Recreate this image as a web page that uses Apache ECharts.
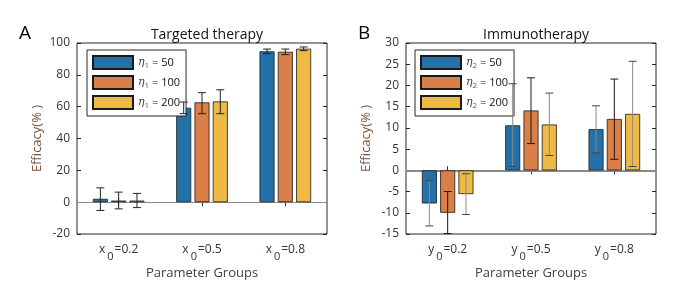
<!DOCTYPE html>
<html><head><meta charset="utf-8">
<script src="https://cdn.jsdelivr.net/npm/echarts@6/dist/echarts.min.js"></script>
<style>html,body{margin:0;padding:0;background:#fff}#c{width:687px;height:290px}</style>
</head><body><div id="c"></div>
<script>
// ---- data ----
const groupsA = ['0.2', '0.5', '0.8'];
const groupsB = ['0.2', '0.5', '0.8'];
const yTicksA = { min: -20, max: 100, step: 20 };
const yTicksB = { min: -15, max: 30, step: 5 };
const legendA = ['50', '100', '200'];
const legendB = ['50', '100', '200'];

const a50 = [2.1, 59.3, 94.8];
const a50Lo = [-5.2, 55.6, 93.3];
const a50Hi = [9.0, 62.9, 96.2];
const a100 = [1.0, 62.7, 94.5];
const a100Lo = [-4.2, 55.6, 92.7];
const a100Hi = [6.3, 68.8, 96.2];
const a200 = [1.0, 63.3, 96.4];
const a200Lo = [-3.4, 55.6, 95.2];
const a200Hi = [5.5, 70.6, 97.5];

const b50 = [-7.8, 10.6, 9.7];
const b50Lo = [-13.1, 0.9, 4.1];
const b50Hi = [-2.4, 20.4, 15.2];
const b100 = [-10.0, 14.1, 12.1];
const b100Lo = [-14.9, 6.3, 2.6];
const b100Hi = [-5.0, 21.8, 21.5];
const b200 = [-5.6, 10.8, 13.3];
const b200Lo = [-10.4, 3.5, 0.9];
const b200Hi = [-0.8, 18.2, 25.7];

// ---- style ----
const colors = ['#2471a9', '#d97f47', '#eeb945'];
const BW = 15, GAP = 0.22;
const tickColor = '#2e3440';
const fontFam = '"Open Sans", "Noto Sans", sans-serif';

const chart = echarts.init(document.getElementById('c'));

function xAxes(gi, cats, varName) {
  return [{
    type: 'category', gridIndex: gi, data: cats, position: 'bottom',
    axisLine: { show: false },
    axisTick: { show: true, inside: true, alignWithLabel: true, length: 4, lineStyle: { color: '#262626' } },
    axisLabel: {
      interval: 0, margin: 10, color: tickColor, fontFamily: fontFam, fontSize: 12,
      formatter: v => '{a|' + varName + '}{s|0}{a|=' + v + '}',
      rich: {
        a: { fontSize: 12, color: tickColor, fontFamily: fontFam, verticalAlign: 'top', lineHeight: 14 },
        s: { fontSize: 11, color: tickColor, fontFamily: fontFam, verticalAlign: 'top', lineHeight: 14, padding: [7, 1, 0, 2] }
      }
    },
    name: 'Parameter Groups', nameLocation: 'middle', nameGap: 32,
    nameTextStyle: { color: '#3a4050', fontSize: 13, fontFamily: fontFam }
  }, {
    type: 'category', gridIndex: gi, data: cats, position: 'top',
    axisLine: { show: false },
    axisTick: { show: true, inside: true, alignWithLabel: true, length: 4, lineStyle: { color: '#262626' } },
    axisLabel: { show: false }
  }];
}
function yAxes(gi, t) {
  return [{
    type: 'value', gridIndex: gi, min: t.min, max: t.max, interval: t.step, position: 'left',
    axisLine: { show: false }, splitLine: { show: false },
    axisTick: { show: true, inside: true, length: 4, lineStyle: { color: '#262626' } },
    axisLabel: { margin: 7, color: tickColor, fontSize: 12, fontFamily: fontFam },
    name: 'Efficacy(% )', nameLocation: 'middle', nameGap: 33, nameRotate: 90,
    nameTextStyle: { color: '#7a5238', fontSize: 13, fontFamily: fontFam }
  }, {
    type: 'value', gridIndex: gi, min: t.min, max: t.max, interval: t.step, position: 'right',
    axisLine: { show: false }, splitLine: { show: false },
    axisTick: { show: true, inside: true, length: 4, lineStyle: { color: '#262626' } },
    axisLabel: { show: false }
  }];
}

function barSeries(name, vals, idx, xi, yi, zeroW) {
  const s = {
    type: 'bar', name: name, xAxisIndex: xi, yAxisIndex: yi, data: vals,
    barWidth: BW, barGap: (GAP * 100) + '%',
    itemStyle: { color: colors[idx], borderColor: '#1a1a1a', borderWidth: 0.8 },
    z: 2
  };
  if (idx === 0) {
    s.markLine = {
      silent: true, symbol: 'none', label: { show: false },
      lineStyle: { color: '#8a8a8a', width: zeroW, type: 'solid' },
      data: [{ yAxis: 0 }], z: 1
    };
  }
  return s;
}
function errSeries(lo, hi, idx, xi, yi, lineColor, capColor) {
  const data = lo.map((l, i) => [i, l, hi[i]]);
  return {
    type: 'custom', xAxisIndex: xi, yAxisIndex: yi, data: data, z: 5, silent: true,
    encode: { x: 0, y: [1, 2] },
    renderItem: (params, api) => {
      const i = api.value(0);
      const pLo = api.coord([i, api.value(1)]);
      const pHi = api.coord([i, api.value(2)]);
      const off = (idx - 1) * BW * (1 + GAP);
      const x = pLo[0] + off;
      const c = 4;
      return {
        type: 'group', children: [
          { type: 'line', shape: { x1: x, y1: pLo[1], x2: x, y2: pHi[1] }, style: { stroke: lineColor, lineWidth: 1 } },
          { type: 'line', shape: { x1: x - c, y1: pLo[1], x2: x + c, y2: pLo[1] }, style: { stroke: capColor, lineWidth: 1 } },
          { type: 'line', shape: { x1: x - c, y1: pHi[1], x2: x + c, y2: pHi[1] }, style: { stroke: capColor, lineWidth: 1 } }
        ]
      };
    }
  };
}

function legendCfg(names, sub, left) {
  const map = {};
  names.forEach((n, i) => { map[n] = legendB[i]; });
  return {
    data: names, orient: 'vertical', left: left, top: 50,
    itemWidth: 40, itemHeight: 13, itemGap: 5,
    padding: [5, 6, 6, 5], borderColor: '#262626', borderWidth: 1, backgroundColor: '#fff',
    icon: 'rect', selectedMode: false,
    formatter: n => '{e|η}{s|' + sub + '}{t| = ' + map[n] + '}',
    textStyle: {
      rich: {
        e: { fontSize: 11, fontStyle: 'italic', color: '#444', fontFamily: 'DejaVu Serif, serif' },
        s: { fontSize: 8, color: '#2a5db0', padding: [6, 0, 0, 0], fontFamily: fontFam },
        t: { fontSize: 11, color: '#111', fontFamily: fontFam }
      }
    }
  };
}

const namesA = legendA.map(v => 'A' + v);
const namesB = legendB.map(v => 'B' + v);

chart.setOption({
  animation: false,
  grid: [
    { left: 77, top: 43, width: 250, height: 191, show: true, borderColor: '#262626', borderWidth: 1, backgroundColor: 'transparent' },
    { left: 406, top: 43, width: 250, height: 191, show: true, borderColor: '#262626', borderWidth: 1, backgroundColor: 'transparent' }
  ],
  title: [
    { text: 'Targeted therapy', left: 202, top: 23, textAlign: 'center', textStyle: { fontSize: 14, fontWeight: 'normal', color: '#111', fontFamily: fontFam } },
    { text: 'Immunotherapy', left: 531, top: 23, textAlign: 'center', textStyle: { fontSize: 14, fontWeight: 'normal', color: '#111', fontFamily: fontFam } },
    { text: 'A', left: 14, top: 19, textStyle: { fontSize: 19, fontWeight: 'normal', color: '#000', fontFamily: fontFam } },
    { text: 'B', left: 353, top: 19, textStyle: { fontSize: 19, fontWeight: 'normal', color: '#000', fontFamily: fontFam } }
  ],
  legend: [legendCfg(namesA, '1', 87), legendCfg(namesB, '2', 415)],
  xAxis: [...xAxes(0, groupsA, 'x'), ...xAxes(1, groupsB, 'y')],
  yAxis: [...yAxes(0, yTicksA), ...yAxes(1, yTicksB)],
  series: [
    barSeries(namesA[0], a50, 0, 0, 0, 1),
    barSeries(namesA[1], a100, 1, 0, 0, 1),
    barSeries(namesA[2], a200, 2, 0, 0, 1),
    errSeries(a50Lo, a50Hi, 0, 0, 0, '#222', '#222'),
    errSeries(a100Lo, a100Hi, 1, 0, 0, '#222', '#222'),
    errSeries(a200Lo, a200Hi, 2, 0, 0, '#222', '#222'),
    barSeries(namesB[0], b50, 0, 2, 2, 1.8),
    barSeries(namesB[1], b100, 1, 2, 2, 1.8),
    barSeries(namesB[2], b200, 2, 2, 2, 1.8),
    errSeries(b50Lo, b50Hi, 0, 2, 2, '#8a8a8a', '#444'),
    errSeries(b100Lo, b100Hi, 1, 2, 2, '#1a1a1a', '#1a1a1a'),
    errSeries(b200Lo, b200Hi, 2, 2, 2, '#8a8a8a', '#444')
  ]
});
</script></body></html>
